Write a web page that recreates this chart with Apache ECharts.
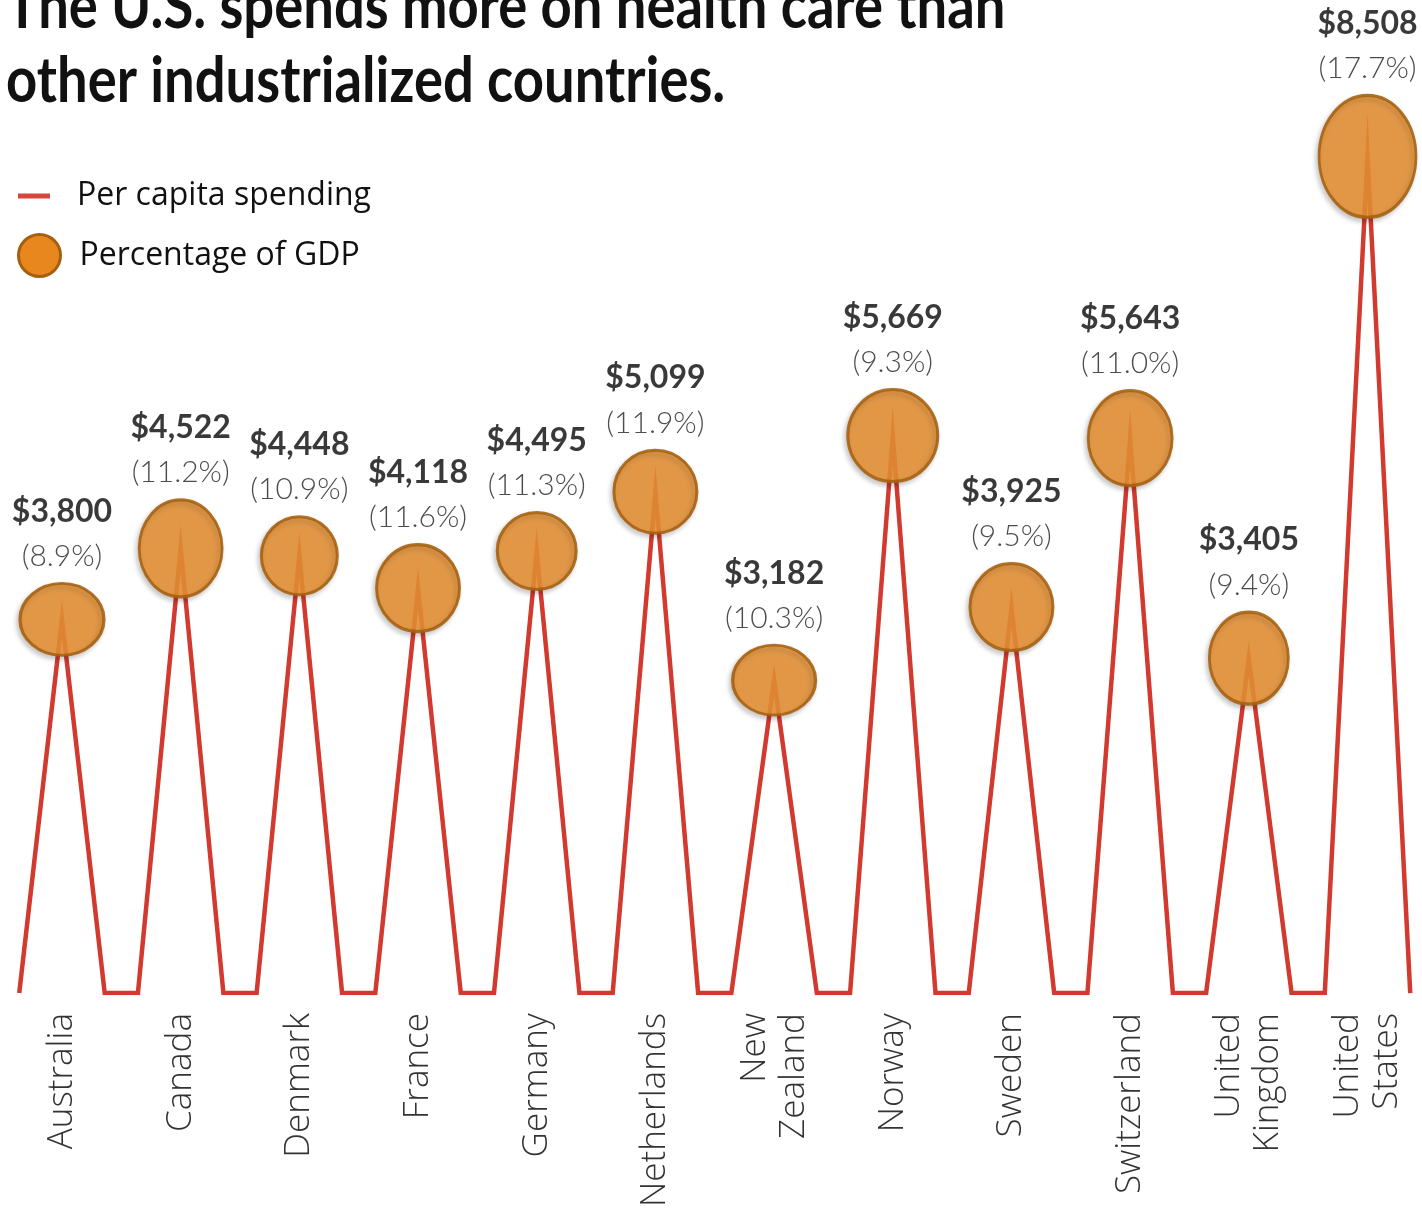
<!DOCTYPE html>
<html>
<head>
<meta charset="utf-8">
<title>Health care spending</title>
<script src="https://cdn.jsdelivr.net/npm/echarts@6/dist/echarts.min.js"></script>
<style>
  html, body { margin: 0; padding: 0; background: #ffffff; }
  #chart { width: 1422px; height: 1210px; }
</style>
</head>
<body>
<div id="chart"></div>
<script>
// Health spending per capita (US$) and as a share of GDP, by country
const countries = ['Australia', 'Canada', 'Denmark', 'France', 'Germany', 'Netherlands',
  'New\nZealand', 'Norway', 'Sweden', 'Switzerland', 'United\nKingdom', 'United\nStates'];
const spending = [3800, 4522, 4448, 4118, 4495, 5099, 3182, 5669, 3925, 5643, 3405, 8508];
const gdpShare = [8.9, 11.2, 10.9, 11.6, 11.3, 11.9, 10.3, 9.3, 9.5, 11.0, 9.4, 17.7];

// Bubble width/height in px (drawing style, one per country)
const bubbleDims = [[84, 72], [83, 97], [76, 78], [83, 87], [79, 77], [83, 83],
  [83, 70], [90, 92], [83, 87], [84, 95], [79, 92], [97, 122]];

const HALF = 0.36;      // half-width of each spike, in category units
const LINE_RED = '#D2392F';
const BUBBLE_FILL = '#E48F33';
const BUBBLE_EDGE = '#A5600F';

// Spike line: rises from the floor to each country's value and back down
const lineData = [];
spending.forEach((v, i) => {
  lineData.push([i - HALF, 0], [i, v], [i + HALF, 0]);
});

const bubbleData = spending.map((v, i) => ({
  value: [i, v, gdpShare[i]],
  symbolSize: bubbleDims[i]
}));

const fmtMoney = v => '$' + v.toLocaleString('en-US');

const chart = echarts.init(document.getElementById('chart'), null, { renderer: 'canvas' });

chart.setOption({
  backgroundColor: '#ffffff',
  animation: false,
  graphic: [
    {
      type: 'text', x: 6, y: 39, scaleX: 0.85, originX: 0,
      style: {
        text: 'The U.S. spends more on health care than',
        font: 'bold 64px Lato', fill: '#111', align: 'left', verticalAlign: 'bottom'
      }
    },
    {
      type: 'text', x: 6, y: 113, scaleX: 0.85, originX: 0,
      style: {
        text: 'other industrialized countries.',
        font: 'bold 64px Lato', fill: '#111', align: 'left', verticalAlign: 'bottom'
      }
    }
  ],
  legend: [
    {
      left: 18, top: 178, padding: 0, selectedMode: false,
      icon: 'rect', itemWidth: 32, itemHeight: 5,
      data: [{ name: 'Per capita spending', itemStyle: { color: '#D8453C' } }],
      textStyle: { fontFamily: 'Open Sans', fontSize: 32, color: '#111', lineHeight: 36, padding: [0, 0, 0, 22] }
    },
    {
      left: 17, top: 233, padding: 0, selectedMode: false,
      icon: 'circle', itemWidth: 42, itemHeight: 42,
      data: [{ name: 'Percentage of GDP', itemStyle: { color: '#E8871E', borderColor: BUBBLE_EDGE, borderWidth: 3, opacity: 1 } }],
      textStyle: { fontFamily: 'Open Sans', fontSize: 32, color: '#111', lineHeight: 36, padding: [0, 0, 0, 14] }
    }
  ],
  grid: { left: 14.5, right: 7, top: 108, bottom: 215, containLabel: false },
  xAxis: {
    type: 'value', min: -0.4, max: 11.4,
    axisLine: { show: false }, axisTick: { show: false }, splitLine: { show: false },
    axisLabel: {
      customValues: countries.map((c, i) => i),
      formatter: v => countries[Math.round(v)] || '',
      rotate: 90, margin: 20,
      fontFamily: 'Open Sans', fontWeight: 300, fontSize: 35, color: '#333', lineHeight: 39
    }
  },
  yAxis: {
    type: 'value', min: 0, max: 9000, show: false,
    splitLine: { show: false }
  },
  series: [
    {
      name: 'Per capita spending',
      type: 'line',
      data: lineData,
      symbol: 'none',
      z: 2,
      lineStyle: { color: LINE_RED, width: 4.5, join: 'miter', miterLimit: 20, cap: 'butt' },
      itemStyle: { color: LINE_RED }
    },
    {
      name: 'Percentage of GDP',
      type: 'scatter',
      data: bubbleData,
      symbol: 'circle',
      z: 3,
      itemStyle: {
        color: BUBBLE_FILL, opacity: 0.88,
        borderColor: BUBBLE_EDGE, borderWidth: 3,
        shadowBlur: 5, shadowColor: 'rgba(0,0,0,0.22)', shadowOffsetY: 3, shadowOffsetX: -2
      },
      label: {
        show: true, position: 'top', distance: 3,
        formatter: p => '{v|' + fmtMoney(spending[p.dataIndex]) + '}\n{p|(' + gdpShare[p.dataIndex].toFixed(1) + '%)}',
        rich: {
          v: { fontFamily: 'Lato', fontWeight: 'bold', fontSize: 32, color: '#1e1e1e', lineHeight: 45, align: 'center' },
          p: { fontFamily: 'Lato', fontWeight: 300, fontSize: 30, color: '#333', lineHeight: 45, align: 'center' }
        }
      },
      emphasis: { disabled: true }
    }
  ]
});
</script>
</body>
</html>
